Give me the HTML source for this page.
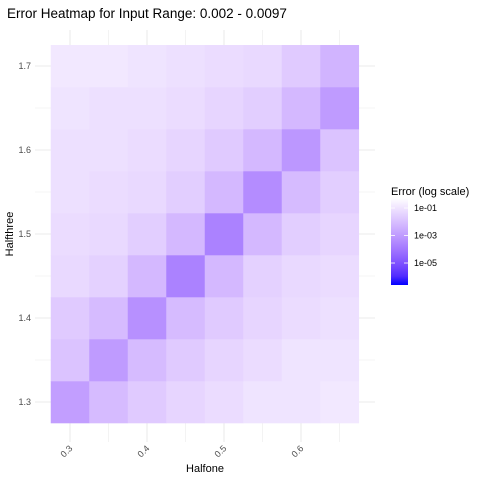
<!DOCTYPE html>
<html><head><meta charset="utf-8"><style>
body{margin:0;background:#fff;}
svg{display:block;font-family:"Liberation Sans",Arial,sans-serif;}
</style></head><body>
<svg width="480" height="480" viewBox="0 0 480 480">
<defs>
<linearGradient id="lg" x1="0" y1="1" x2="0" y2="0"></linearGradient>
</defs>
<rect width="480" height="480" fill="#fff"/>
<text x="7" y="18" font-size="13.5" fill="#000">Error Heatmap for Input Range: 0.002 - 0.0097</text>
<g id="grid"></g>
<g id="cells"></g>
<g id="yt"></g>
<g id="xt"></g>
<text x="205" y="472" font-size="11" text-anchor="middle" fill="#000">Halfone</text>
<text transform="translate(13,234) rotate(-90)" font-size="11" text-anchor="middle" fill="#000">Halfthree</text>
<text x="391" y="195" font-size="11" fill="#000">Error (log scale)</text>
<rect id="lbar" x="391" y="198" width="17" height="87" fill="url(#lg)"/>
<g id="leg"></g>
</svg>
<script>
const xCats=[0.3,0.35,0.4,0.45,0.5,0.55,0.6,0.65];
const yCats=[1.3,1.35,1.4,1.45,1.5,1.55,1.6,1.65,1.7];
const xTicks=[0.3,0.4,0.5,0.6];
const yTicks=[1.3,1.4,1.5,1.6,1.7];
const legendTicks=[-1,-3,-5];
const legendLabels=["1e-01","1e-03","1e-05"];
// log10 error, rows bottom (1.3) to top (1.7)
const logErr=[
[-2.9,-2.1,-1.7,-1.4,-1.2,-1.0,-1.0,-0.9],
[-1.9,-3.0,-2.1,-1.7,-1.4,-1.2,-1.0,-1.0],
[-1.7,-2.1,-3.3,-2.1,-1.7,-1.4,-1.2,-1.1],
[-1.3,-1.5,-2.2,-3.7,-2.2,-1.5,-1.3,-1.2],
[-1.2,-1.3,-1.6,-2.2,-3.7,-2.2,-1.6,-1.4],
[-1.1,-1.2,-1.3,-1.6,-2.2,-3.4,-2.1,-1.6],
[-1.1,-1.1,-1.2,-1.4,-1.7,-2.2,-3.1,-1.9],
[-1.0,-1.1,-1.1,-1.2,-1.4,-1.6,-2.2,-3.0],
[-0.9,-0.9,-1.0,-1.1,-1.2,-1.3,-1.7,-2.3]
];
const NS="http://www.w3.org/2000/svg";
const LO=-6.6,HI=-0.27;
const xs=v=>70+(v-0.3)/0.05*38.5;
const ys=v=>402-(v-1.3)/0.05*42;
const cw=38.5,ch=42;
function lab2rgb(L,a,b){let fy=(L+16)/116,fx=fy+a/500,fz=fy-b/200;
 const f=t=>t>0.206893?t*t*t:(t-16/116)/7.787;
 let X=0.95047*f(fx),Y=f(fy),Z=1.08883*f(fz);
 let r=3.2406*X-1.5372*Y-0.4986*Z,g=-0.9689*X+1.8758*Y+0.0415*Z,bb=0.0557*X-0.2040*Y+1.0570*Z;
 const c=u=>{u=u>0.0031308?1.055*Math.pow(u,1/2.4)-0.055:12.92*u;return Math.round(Math.max(0,Math.min(1,u))*255);};
 return `rgb(${c(r)},${c(g)},${c(bb)})`;}
function col(v){let t=(v-LO)/(HI-LO);t=Math.max(0,Math.min(1,t));
 return lab2rgb(32.3+67.7*t,79.2*(1-t),-107.9*(1-t));}
function el(tag,attrs,parent){const e=document.createElementNS(NS,tag);for(const k in attrs)e.setAttribute(k,attrs[k]);parent.appendChild(e);return e;}
const grid=document.getElementById('grid');
xCats.forEach((v,i)=>{const l=el('line',{x1:xs(v),x2:xs(v),y1:30,y2:442,stroke:'#ebebeb','stroke-width':i%2?0.6:1.1},grid);

});
yCats.forEach((v,i)=>{const l=el('line',{x1:35,x2:375,y1:ys(v),y2:ys(v),stroke:'#ebebeb','stroke-width':i%2?0.6:1.1},grid);

});
const cells=document.getElementById('cells');
yCats.forEach((yv,r)=>xCats.forEach((xv,c)=>{
 const rc=el('rect',{x:xs(xv)-cw/2,y:ys(yv)-ch/2,width:cw+0.3,height:ch+0.3,fill:col(logErr[r][c])},cells);
 
 
}));
const yt=document.getElementById('yt');
yTicks.forEach(v=>{const t=el('text',{x:31,y:ys(v)+3,'font-size':9,'text-anchor':'end',fill:'#4d4d4d'},yt);t.textContent=v.toFixed(1);

});
const xt=document.getElementById('xt');
xTicks.forEach(v=>{const x=xs(v);const t=el('text',{transform:`translate(${x+3},${449}) rotate(-45)`,'font-size':9,'text-anchor':'end',fill:'#4d4d4d'},xt);t.textContent=v.toFixed(1);

});
const lg=document.getElementById('lg');
for(let i=0;i<=10;i++){const s=el('stop',{offset:i/10,'stop-color':col(LO+(HI-LO)*i/10)},lg);}
const leg=document.getElementById('leg');
const ly=v=>285-(v-LO)/(HI-LO)*87;
legendTicks.forEach((v,i)=>{
 const l=el('line',{x1:391,x2:395,y1:ly(v),y2:ly(v),stroke:'#fff','stroke-width':0.8},leg);
 
 
 const l2=el('line',{x1:404,x2:408,y1:ly(v),y2:ly(v),stroke:'#fff','stroke-width':0.8},leg);
 
 
 const t=el('text',{x:414,y:ly(v)+3,'font-size':9,fill:'#000'},leg);t.textContent=legendLabels[i];
 
 
});
</script>
</body></html>
